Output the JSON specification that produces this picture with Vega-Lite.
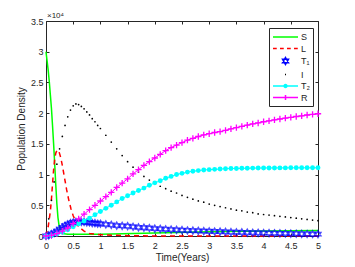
{
"$schema":"https://vega.github.io/schema/vega-lite/v6.json",
"width":272,"height":215,
"autosize":{"type":"none"},
"padding":{"left":46,"top":21,"right":37,"bottom":31},
"title":{"text":"×10⁴","anchor":"start","frame":"group","fontSize":8,"fontWeight":"normal","color":"#262626","offset":-3,"dx":1},
"config":{"font":"Liberation Sans","view":{"stroke":null},"axis":{"grid":false,"domainColor":"#262626","tickColor":"#262626","labelColor":"#262626","titleColor":"#262626","labelFontSize":9,"titleFontSize":10,"titleFontWeight":"normal","tickSize":-3,"domainWidth":1,"format":"~g"}},
"datasets":{"d":[
{"s":"S","t":0,"v":3.0},{"s":"S","t":0.02,"v":2.85},{"s":"S","t":0.04,"v":2.7},{"s":"S","t":0.06,"v":2.52},{"s":"S","t":0.08,"v":2.3},{"s":"S","t":0.1,"v":2.08},{"s":"S","t":0.12,"v":1.8},{"s":"S","t":0.14,"v":1.5},{"s":"S","t":0.16,"v":1.17},{"s":"S","t":0.18,"v":0.83},{"s":"S","t":0.2,"v":0.52},{"s":"S","t":0.22,"v":0.3},{"s":"S","t":0.24,"v":0.17},{"s":"S","t":0.26,"v":0.1},{"s":"S","t":0.28,"v":0.06},{"s":"S","t":0.3,"v":0.04},{"s":"S","t":0.4,"v":0.03},{"s":"S","t":1,"v":0.03},{"s":"S","t":2,"v":0.05},{"s":"S","t":3,"v":0.07},{"s":"S","t":4,"v":0.08},{"s":"S","t":5,"v":0.09},
{"s":"L","t":0,"v":0},{"s":"L","t":0.04,"v":0.15},{"s":"L","t":0.08,"v":0.4},{"s":"L","t":0.1,"v":0.6},{"s":"L","t":0.12,"v":0.85},{"s":"L","t":0.14,"v":1.08},{"s":"L","t":0.16,"v":1.25},{"s":"L","t":0.18,"v":1.35},{"s":"L","t":0.2,"v":1.39},{"s":"L","t":0.22,"v":1.4},{"s":"L","t":0.24,"v":1.37},{"s":"L","t":0.27,"v":1.28},{"s":"L","t":0.3,"v":1.15},{"s":"L","t":0.34,"v":0.95},{"s":"L","t":0.38,"v":0.75},{"s":"L","t":0.42,"v":0.58},{"s":"L","t":0.46,"v":0.44},{"s":"L","t":0.5,"v":0.33},{"s":"L","t":0.55,"v":0.23},{"s":"L","t":0.6,"v":0.15},{"s":"L","t":0.7,"v":0.08},{"s":"L","t":0.8,"v":0.04},{"s":"L","t":1,"v":0.02},{"s":"L","t":1.5,"v":0.005},{"s":"L","t":2,"v":0},{"s":"L","t":5,"v":0},
{"s":"T₁","t":0,"v":0},{"s":"T₁","t":0.05,"v":0.01},{"s":"T₁","t":0.1,"v":0.03},{"s":"T₁","t":0.15,"v":0.05},{"s":"T₁","t":0.2,"v":0.08},{"s":"T₁","t":0.25,"v":0.11},{"s":"T₁","t":0.3,"v":0.14},{"s":"T₁","t":0.35,"v":0.17},{"s":"T₁","t":0.4,"v":0.19},{"s":"T₁","t":0.45,"v":0.21},{"s":"T₁","t":0.5,"v":0.22},{"s":"T₁","t":0.55,"v":0.23},{"s":"T₁","t":0.6,"v":0.23},{"s":"T₁","t":0.65,"v":0.23},{"s":"T₁","t":0.7,"v":0.23},{"s":"T₁","t":0.75,"v":0.22},{"s":"T₁","t":0.8,"v":0.22},{"s":"T₁","t":0.85,"v":0.21},{"s":"T₁","t":0.9,"v":0.21},{"s":"T₁","t":0.95,"v":0.2},{"s":"T₁","t":1.0,"v":0.2},{"s":"T₁","t":1.1,"v":0.19},{"s":"T₁","t":1.2,"v":0.18},{"s":"T₁","t":1.3,"v":0.17},{"s":"T₁","t":1.4,"v":0.165},{"s":"T₁","t":1.5,"v":0.16},{"s":"T₁","t":1.6,"v":0.15},{"s":"T₁","t":1.7,"v":0.14},{"s":"T₁","t":1.8,"v":0.135},{"s":"T₁","t":1.9,"v":0.13},{"s":"T₁","t":2.0,"v":0.12},{"s":"T₁","t":2.1,"v":0.115},{"s":"T₁","t":2.2,"v":0.11},{"s":"T₁","t":2.3,"v":0.105},{"s":"T₁","t":2.4,"v":0.1},{"s":"T₁","t":2.5,"v":0.095},{"s":"T₁","t":2.6,"v":0.09},{"s":"T₁","t":2.7,"v":0.087},{"s":"T₁","t":2.8,"v":0.083},{"s":"T₁","t":2.9,"v":0.08},{"s":"T₁","t":3.0,"v":0.077},{"s":"T₁","t":3.1,"v":0.073},{"s":"T₁","t":3.2,"v":0.07},{"s":"T₁","t":3.3,"v":0.067},{"s":"T₁","t":3.4,"v":0.064},{"s":"T₁","t":3.5,"v":0.061},{"s":"T₁","t":3.6,"v":0.058},{"s":"T₁","t":3.7,"v":0.056},{"s":"T₁","t":3.8,"v":0.053},{"s":"T₁","t":3.9,"v":0.051},{"s":"T₁","t":4.0,"v":0.049},{"s":"T₁","t":4.1,"v":0.047},{"s":"T₁","t":4.2,"v":0.045},{"s":"T₁","t":4.3,"v":0.043},{"s":"T₁","t":4.4,"v":0.041},{"s":"T₁","t":4.5,"v":0.039},{"s":"T₁","t":4.6,"v":0.037},{"s":"T₁","t":4.7,"v":0.035},{"s":"T₁","t":4.8,"v":0.033},{"s":"T₁","t":4.9,"v":0.032},{"s":"T₁","t":5.0,"v":0.03},
{"s":"I","t":0,"v":0.02},{"s":"I","t":0.05,"v":0.28},{"s":"I","t":0.1,"v":0.58},{"s":"I","t":0.15,"v":0.88},{"s":"I","t":0.2,"v":1.17},{"s":"I","t":0.25,"v":1.42},{"s":"I","t":0.3,"v":1.62},{"s":"I","t":0.35,"v":1.8},{"s":"I","t":0.4,"v":1.94},{"s":"I","t":0.45,"v":2.05},{"s":"I","t":0.5,"v":2.12},{"s":"I","t":0.55,"v":2.15},{"s":"I","t":0.6,"v":2.14},{"s":"I","t":0.65,"v":2.11},{"s":"I","t":0.7,"v":2.07},{"s":"I","t":0.75,"v":2.02},{"s":"I","t":0.8,"v":1.97},{"s":"I","t":0.85,"v":1.91},{"s":"I","t":0.9,"v":1.86},{"s":"I","t":0.95,"v":1.8},{"s":"I","t":1.0,"v":1.75},{"s":"I","t":1.1,"v":1.64},{"s":"I","t":1.2,"v":1.53},{"s":"I","t":1.3,"v":1.42},{"s":"I","t":1.4,"v":1.31},{"s":"I","t":1.5,"v":1.21},{"s":"I","t":1.6,"v":1.12},{"s":"I","t":1.7,"v":1.04},{"s":"I","t":1.8,"v":0.97},{"s":"I","t":1.9,"v":0.91},{"s":"I","t":2.0,"v":0.85},{"s":"I","t":2.1,"v":0.81},{"s":"I","t":2.2,"v":0.77},{"s":"I","t":2.3,"v":0.73},{"s":"I","t":2.4,"v":0.7},{"s":"I","t":2.5,"v":0.66},{"s":"I","t":2.6,"v":0.63},{"s":"I","t":2.7,"v":0.6},{"s":"I","t":2.8,"v":0.57},{"s":"I","t":2.9,"v":0.55},{"s":"I","t":3.0,"v":0.52},{"s":"I","t":3.1,"v":0.5},{"s":"I","t":3.2,"v":0.48},{"s":"I","t":3.3,"v":0.46},{"s":"I","t":3.4,"v":0.44},{"s":"I","t":3.5,"v":0.42},{"s":"I","t":3.6,"v":0.41},{"s":"I","t":3.7,"v":0.39},{"s":"I","t":3.8,"v":0.38},{"s":"I","t":3.9,"v":0.36},{"s":"I","t":4.0,"v":0.35},{"s":"I","t":4.1,"v":0.34},{"s":"I","t":4.2,"v":0.33},{"s":"I","t":4.3,"v":0.32},{"s":"I","t":4.4,"v":0.31},{"s":"I","t":4.5,"v":0.3},{"s":"I","t":4.6,"v":0.29},{"s":"I","t":4.7,"v":0.28},{"s":"I","t":4.8,"v":0.27},{"s":"I","t":4.9,"v":0.26},{"s":"I","t":5.0,"v":0.25},
{"s":"T₂","t":0,"v":0},{"s":"T₂","t":0.1,"v":0.005},{"s":"T₂","t":0.2,"v":0.03},{"s":"T₂","t":0.3,"v":0.06},{"s":"T₂","t":0.4,"v":0.1},{"s":"T₂","t":0.5,"v":0.15},{"s":"T₂","t":0.6,"v":0.2},{"s":"T₂","t":0.7,"v":0.245},{"s":"T₂","t":0.8,"v":0.29},{"s":"T₂","t":0.9,"v":0.345},{"s":"T₂","t":1.0,"v":0.4},{"s":"T₂","t":1.1,"v":0.45},{"s":"T₂","t":1.2,"v":0.5},{"s":"T₂","t":1.3,"v":0.555},{"s":"T₂","t":1.4,"v":0.61},{"s":"T₂","t":1.5,"v":0.655},{"s":"T₂","t":1.6,"v":0.7},{"s":"T₂","t":1.7,"v":0.74},{"s":"T₂","t":1.8,"v":0.78},{"s":"T₂","t":1.9,"v":0.825},{"s":"T₂","t":2.0,"v":0.865},{"s":"T₂","t":2.1,"v":0.9},{"s":"T₂","t":2.2,"v":0.94},{"s":"T₂","t":2.3,"v":0.97},{"s":"T₂","t":2.4,"v":1.0},{"s":"T₂","t":2.5,"v":1.02},{"s":"T₂","t":2.6,"v":1.04},{"s":"T₂","t":2.7,"v":1.055},{"s":"T₂","t":2.8,"v":1.065},{"s":"T₂","t":2.9,"v":1.075},{"s":"T₂","t":3.0,"v":1.08},{"s":"T₂","t":3.1,"v":1.085},{"s":"T₂","t":3.2,"v":1.09},{"s":"T₂","t":3.3,"v":1.095},{"s":"T₂","t":3.4,"v":1.1},{"s":"T₂","t":3.5,"v":1.1},{"s":"T₂","t":3.6,"v":1.102},{"s":"T₂","t":3.7,"v":1.104},{"s":"T₂","t":3.8,"v":1.105},{"s":"T₂","t":3.9,"v":1.106},{"s":"T₂","t":4.0,"v":1.107},{"s":"T₂","t":4.1,"v":1.108},{"s":"T₂","t":4.2,"v":1.108},{"s":"T₂","t":4.3,"v":1.109},{"s":"T₂","t":4.4,"v":1.109},{"s":"T₂","t":4.5,"v":1.11},{"s":"T₂","t":4.6,"v":1.11},{"s":"T₂","t":4.7,"v":1.11},{"s":"T₂","t":4.8,"v":1.11},{"s":"T₂","t":4.9,"v":1.11},{"s":"T₂","t":5.0,"v":1.11},
{"s":"R","t":0,"v":0},{"s":"R","t":0.1,"v":0.01},{"s":"R","t":0.2,"v":0.04},{"s":"R","t":0.3,"v":0.08},{"s":"R","t":0.4,"v":0.13},{"s":"R","t":0.5,"v":0.2},{"s":"R","t":0.6,"v":0.28},{"s":"R","t":0.7,"v":0.355},{"s":"R","t":0.8,"v":0.43},{"s":"R","t":0.9,"v":0.5},{"s":"R","t":1.0,"v":0.57},{"s":"R","t":1.1,"v":0.64},{"s":"R","t":1.2,"v":0.71},{"s":"R","t":1.3,"v":0.79},{"s":"R","t":1.4,"v":0.86},{"s":"R","t":1.5,"v":0.93},{"s":"R","t":1.6,"v":1.01},{"s":"R","t":1.7,"v":1.08},{"s":"R","t":1.8,"v":1.15},{"s":"R","t":1.9,"v":1.21},{"s":"R","t":2.0,"v":1.27},{"s":"R","t":2.1,"v":1.33},{"s":"R","t":2.2,"v":1.39},{"s":"R","t":2.3,"v":1.44},{"s":"R","t":2.4,"v":1.48},{"s":"R","t":2.5,"v":1.52},{"s":"R","t":2.6,"v":1.56},{"s":"R","t":2.7,"v":1.59},{"s":"R","t":2.8,"v":1.62},{"s":"R","t":2.9,"v":1.645},{"s":"R","t":3.0,"v":1.665},{"s":"R","t":3.1,"v":1.685},{"s":"R","t":3.2,"v":1.7},{"s":"R","t":3.3,"v":1.72},{"s":"R","t":3.4,"v":1.745},{"s":"R","t":3.5,"v":1.765},{"s":"R","t":3.6,"v":1.785},{"s":"R","t":3.7,"v":1.805},{"s":"R","t":3.8,"v":1.825},{"s":"R","t":3.9,"v":1.84},{"s":"R","t":4.0,"v":1.86},{"s":"R","t":4.1,"v":1.875},{"s":"R","t":4.2,"v":1.89},{"s":"R","t":4.3,"v":1.905},{"s":"R","t":4.4,"v":1.92},{"s":"R","t":4.5,"v":1.93},{"s":"R","t":4.6,"v":1.945},{"s":"R","t":4.7,"v":1.955},{"s":"R","t":4.8,"v":1.97},{"s":"R","t":4.9,"v":1.98},{"s":"R","t":5.0,"v":1.99}
]},
"data":{"name":"d"},
"encoding":{
"x":{"field":"t","type":"quantitative","scale":{"domain":[0,5],"nice":false}},
"y":{"field":"v","type":"quantitative","scale":{"domain":[0,3.5],"nice":false}}
},
"resolve":{"axis":{"x":"independent","y":"independent"}},
"layer":[
{"encoding":{
"x":{"field":"t","type":"quantitative","axis":{"orient":"bottom","title":"Time(Years)","values":[0,0.5,1,1.5,2,2.5,3,3.5,4,4.5,5],"labelPadding":8,"titlePadding":2,"labelFlush":false}},
"y":{"field":"v","type":"quantitative","axis":{"orient":"left","title":"Population Density","values":[0,0.5,1,1.5,2,2.5,3,3.5],"labelPadding":6,"titlePadding":4,"labelFlush":false}}
},
"layer":[
{"transform":[{"filter":"datum.s=='S'"}],"mark":{"type":"line","color":"#00ff00","strokeWidth":1.5},"encoding":{}},
{"transform":[{"filter":"datum.s=='L'"}],"mark":{"type":"line","color":"#ff0000","strokeWidth":1.5,"strokeDash":[5,4]},"encoding":{}},
{"transform":[{"filter":"datum.s=='T₁'"}],"mark":{"type":"point","filled":false,"color":"#0000ff","strokeWidth":1.3,"size":50,"shape":"M0,-1L0.866,0.5L-0.866,0.5ZM0,1L0.866,-0.5L-0.866,-0.5Z"}},
{"transform":[{"filter":"datum.s=='I'"}],"mark":{"type":"point","filled":true,"color":"#000000","size":3,"shape":"circle","opacity":1}},
{"transform":[{"filter":"datum.s=='T₂'"}],"mark":{"type":"line","color":"#00ffff","strokeWidth":1},"encoding":{}},
{"transform":[{"filter":"datum.s=='T₂'"}],"mark":{"type":"point","filled":true,"color":"#00ffff","size":24,"shape":"circle","opacity":1}},
{"transform":[{"filter":"datum.s=='R'"}],"mark":{"type":"line","color":"#ff00ff","strokeWidth":1},"encoding":{}},
{"transform":[{"filter":"datum.s=='R'"}],"mark":{"type":"point","filled":false,"color":"#ff00ff","strokeWidth":1.3,"size":40,"shape":"M-1,0H1M0,-1V1","opacity":1}}
]},
{"mark":{"type":"point","filled":false,"opacity":0,"strokeWidth":1.5},
"encoding":{
"x":{"field":"t","type":"quantitative","axis":{"orient":"top","labels":false,"title":null,"values":[0,0.5,1,1.5,2,2.5,3,3.5,4,4.5,5]}},
"y":{"field":"v","type":"quantitative","axis":{"orient":"right","labels":false,"title":null,"values":[0,0.5,1,1.5,2,2.5,3,3.5]}},
"color":{"field":"s","type":"nominal","scale":{"domain":["S","L","T₁","I","T₂","R"],"range":["#00ff00","#ff0000","#0000ff","#000000","#00ffff","#ff00ff"]},
"legend":{"title":null,"orient":"none","legendX":223,"legendY":7,"symbolSize":100,"symbolOffset":7.5,"symbolStrokeWidth":1.5,"symbolOpacity":1,"labelFontSize":9,"labelColor":"#262626","strokeColor":"#262626","fillColor":"white","padding":3,"labelOffset":9.5,"rowPadding":0.5}},
"shape":{"field":"s","type":"nominal","scale":{"domain":["S","L","T₁","I","T₂","R"],"range":["M-2.5,0H2.5","M-2.5,0H-1.75M-1.1,0H-0.35M0.3,0H1.05M1.7,0H2.45","M0,-0.7L0.6,0.35L-0.6,0.35ZM0,0.7L0.6,-0.35L-0.6,-0.35Z","M-0.1,0H0.1","M-2.5,0H2.5M-0.3,0A0.3,0.3 0 1,0 0.3,0A0.3,0.3 0 1,0 -0.3,0M-0.15,0A0.15,0.15 0 1,0 0.15,0A0.15,0.15 0 1,0 -0.15,0","M-2.5,0H2.5M0,-0.5V0.5"]},
"legend":{"title":null,"orient":"none","legendX":223,"legendY":7,"symbolSize":100,"symbolOffset":7.5,"symbolStrokeWidth":1.5,"symbolOpacity":1,"labelFontSize":9,"labelColor":"#262626","strokeColor":"#262626","fillColor":"white","padding":3,"labelOffset":9.5,"rowPadding":0.5}}
}}
]
}
